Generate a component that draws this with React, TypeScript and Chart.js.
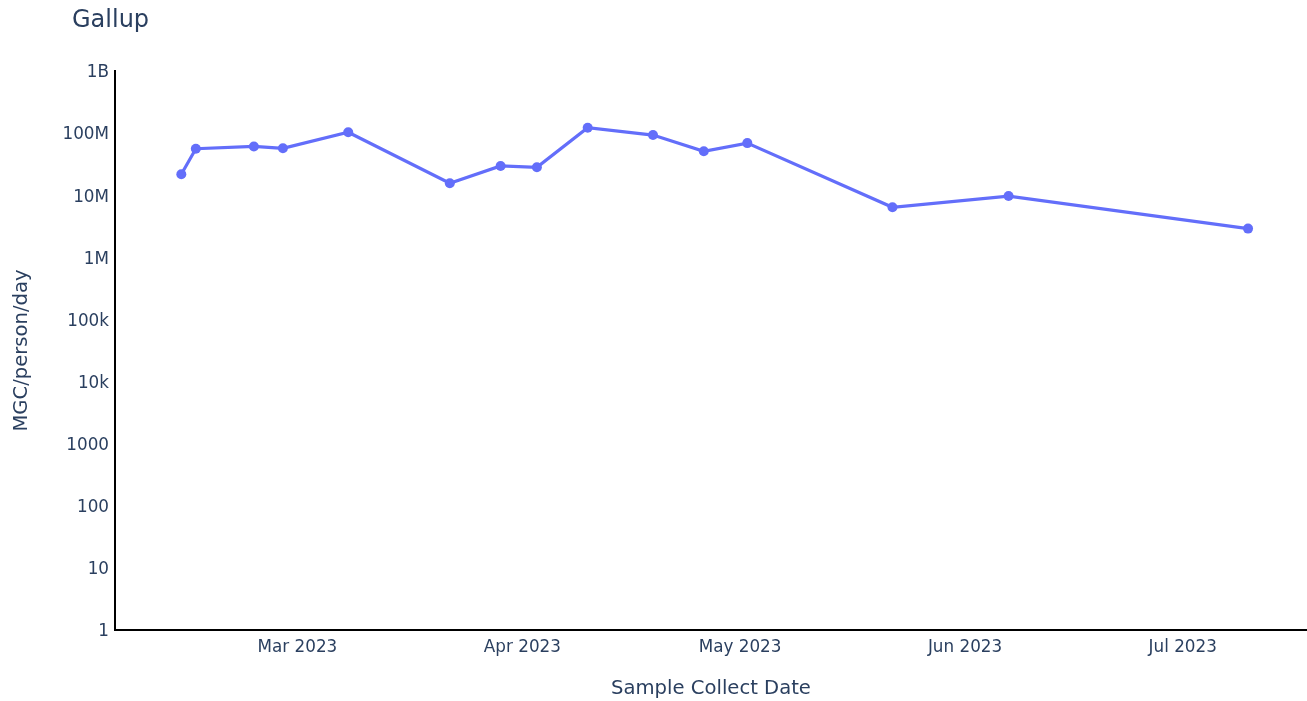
import React, { useEffect, useRef } from "react";
import { Chart, registerables } from "chart.js";

Chart.register(...registerables);

const chartTitle = "Gallup";
const xAxisTitle = "Sample Collect Date";
const yAxisTitle = "MGC/person/day";

const sampleDates = [
  "2023-02-13", "2023-02-15", "2023-02-23", "2023-02-27", "2023-03-08",
  "2023-03-22", "2023-03-29", "2023-04-03", "2023-04-10", "2023-04-19",
  "2023-04-26", "2023-05-02", "2023-05-22", "2023-06-07", "2023-07-10",
];
const mgcValues = [
  21.7e6, 56e6, 61e6, 57e6, 103e6,
  15.6e6, 29.6e6, 28.2e6, 122e6, 93e6,
  51e6, 69e6, 6.4e6, 9.7e6, 2.9e6,
];

const xTickDates = ["2023-03-01", "2023-04-01", "2023-05-01", "2023-06-01", "2023-07-01"];
const xTickLabels = ["Mar 2023", "Apr 2023", "May 2023", "Jun 2023", "Jul 2023"];
const yTickValues = [1, 10, 100, 1000, 1e4, 1e5, 1e6, 1e7, 1e8, 1e9];
const yTickLabels = ["1", "10", "100", "1000", "10k", "100k", "1M", "10M", "100M", "1B"];

const xRangeStart = "2023-02-03T20:40:00Z";
const xRangeEnd = "2023-07-18T03:00:00Z";

const FONT = "'DejaVu Sans', Verdana, sans-serif";
const TEXT_COLOR = "#2a3f5f";

const toMs = (d: string) => new Date(d.length === 10 ? d + "T00:00:00Z" : d).getTime();

export default function App() {
  const canvasRef = useRef<HTMLCanvasElement | null>(null);

  useEffect(() => {
    if (!canvasRef.current) return;
    const points = sampleDates.map((d, i) => ({ x: toMs(d), y: mgcValues[i] }));
    const xTickMs = xTickDates.map(toMs);

    const titlePlugin = {
      id: "plotTitle",
      afterDraw(chart: any) {
        const ctx = chart.ctx;
        ctx.save();
        ctx.font = `24px ${FONT}`;
        ctx.fillStyle = TEXT_COLOR;
        ctx.textAlign = "left";
        ctx.textBaseline = "middle";
        ctx.fillText(chartTitle, 72, 21);
        ctx.restore();
      },
    };

    const chart = new Chart(canvasRef.current, {
      type: "line",
      data: {
        datasets: [
          {
            label: chartTitle,
            data: points,
            borderColor: "#636efa",
            backgroundColor: "#636efa",
            pointBackgroundColor: "#636efa",
            pointBorderColor: "#636efa",
            borderWidth: 3.2,
            pointRadius: 5,
            pointBorderWidth: 0,
            tension: 0,
            fill: false,
            clip: false as any,
          },
        ],
      },
      options: {
        animation: false,
        responsive: false,
        maintainAspectRatio: false,
        layout: { autoPadding: false, padding: { top: 71, right: 0, left: 0, bottom: 0 } },
        plugins: {
          legend: { display: false },
          tooltip: { enabled: false },
          title: { display: false },
        },
        scales: {
          x: {
            type: "linear",
            min: toMs(xRangeStart),
            max: toMs(xRangeEnd),
            afterBuildTicks(scale: any) {
              scale.ticks = xTickMs.map((v) => ({ value: v }));
            },
            afterFit(scale: any) {
              scale.height = 71;
            },
            grid: { display: false, drawTicks: false },
            border: { display: true, color: "#000", width: 2 },
            ticks: {
              autoSkip: false,
              maxRotation: 0,
              padding: 8,
              color: TEXT_COLOR,
              font: { family: FONT, size: 16.8 },
              callback: (v: any) => {
                const i = xTickMs.indexOf(Number(v));
                return i >= 0 ? xTickLabels[i] : "";
              },
            },
            title: {
              display: true,
              text: xAxisTitle,
              color: TEXT_COLOR,
              font: { family: FONT, size: 19.6 },
              padding: { top: 16, bottom: 0 },
            },
          },
          y: {
            type: "logarithmic",
            min: 1,
            max: 1e9,
            afterBuildTicks(scale: any) {
              scale.ticks = yTickValues.map((v) => ({ value: v }));
            },
            afterFit(scale: any) {
              scale.width = 115;
            },
            grid: { display: false, drawTicks: false },
            border: { display: true, color: "#000", width: 2 },
            ticks: {
              autoSkip: false,
              padding: 6,
              labelOffset: 2,
              color: TEXT_COLOR,
              font: { family: FONT, size: 16.8 },
              callback: (v: any) => {
                const i = yTickValues.indexOf(Number(v));
                return i >= 0 ? yTickLabels[i] : "";
              },
            },
            title: {
              display: true,
              text: yAxisTitle,
              color: TEXT_COLOR,
              font: { family: FONT, size: 19.6 },
              padding: { top: 10, bottom: 0 },
            },
          },
        },
      } as any,
      plugins: [titlePlugin],
    });

    return () => chart.destroy();
  }, []);

  return (
    <div style={{ position: "fixed", left: 0, top: 0, width: 1307, height: 701, background: "#fff" }}>
      <canvas ref={canvasRef} width={1307} height={701} style={{ width: 1307, height: 701 }} />
    </div>
  );
}
